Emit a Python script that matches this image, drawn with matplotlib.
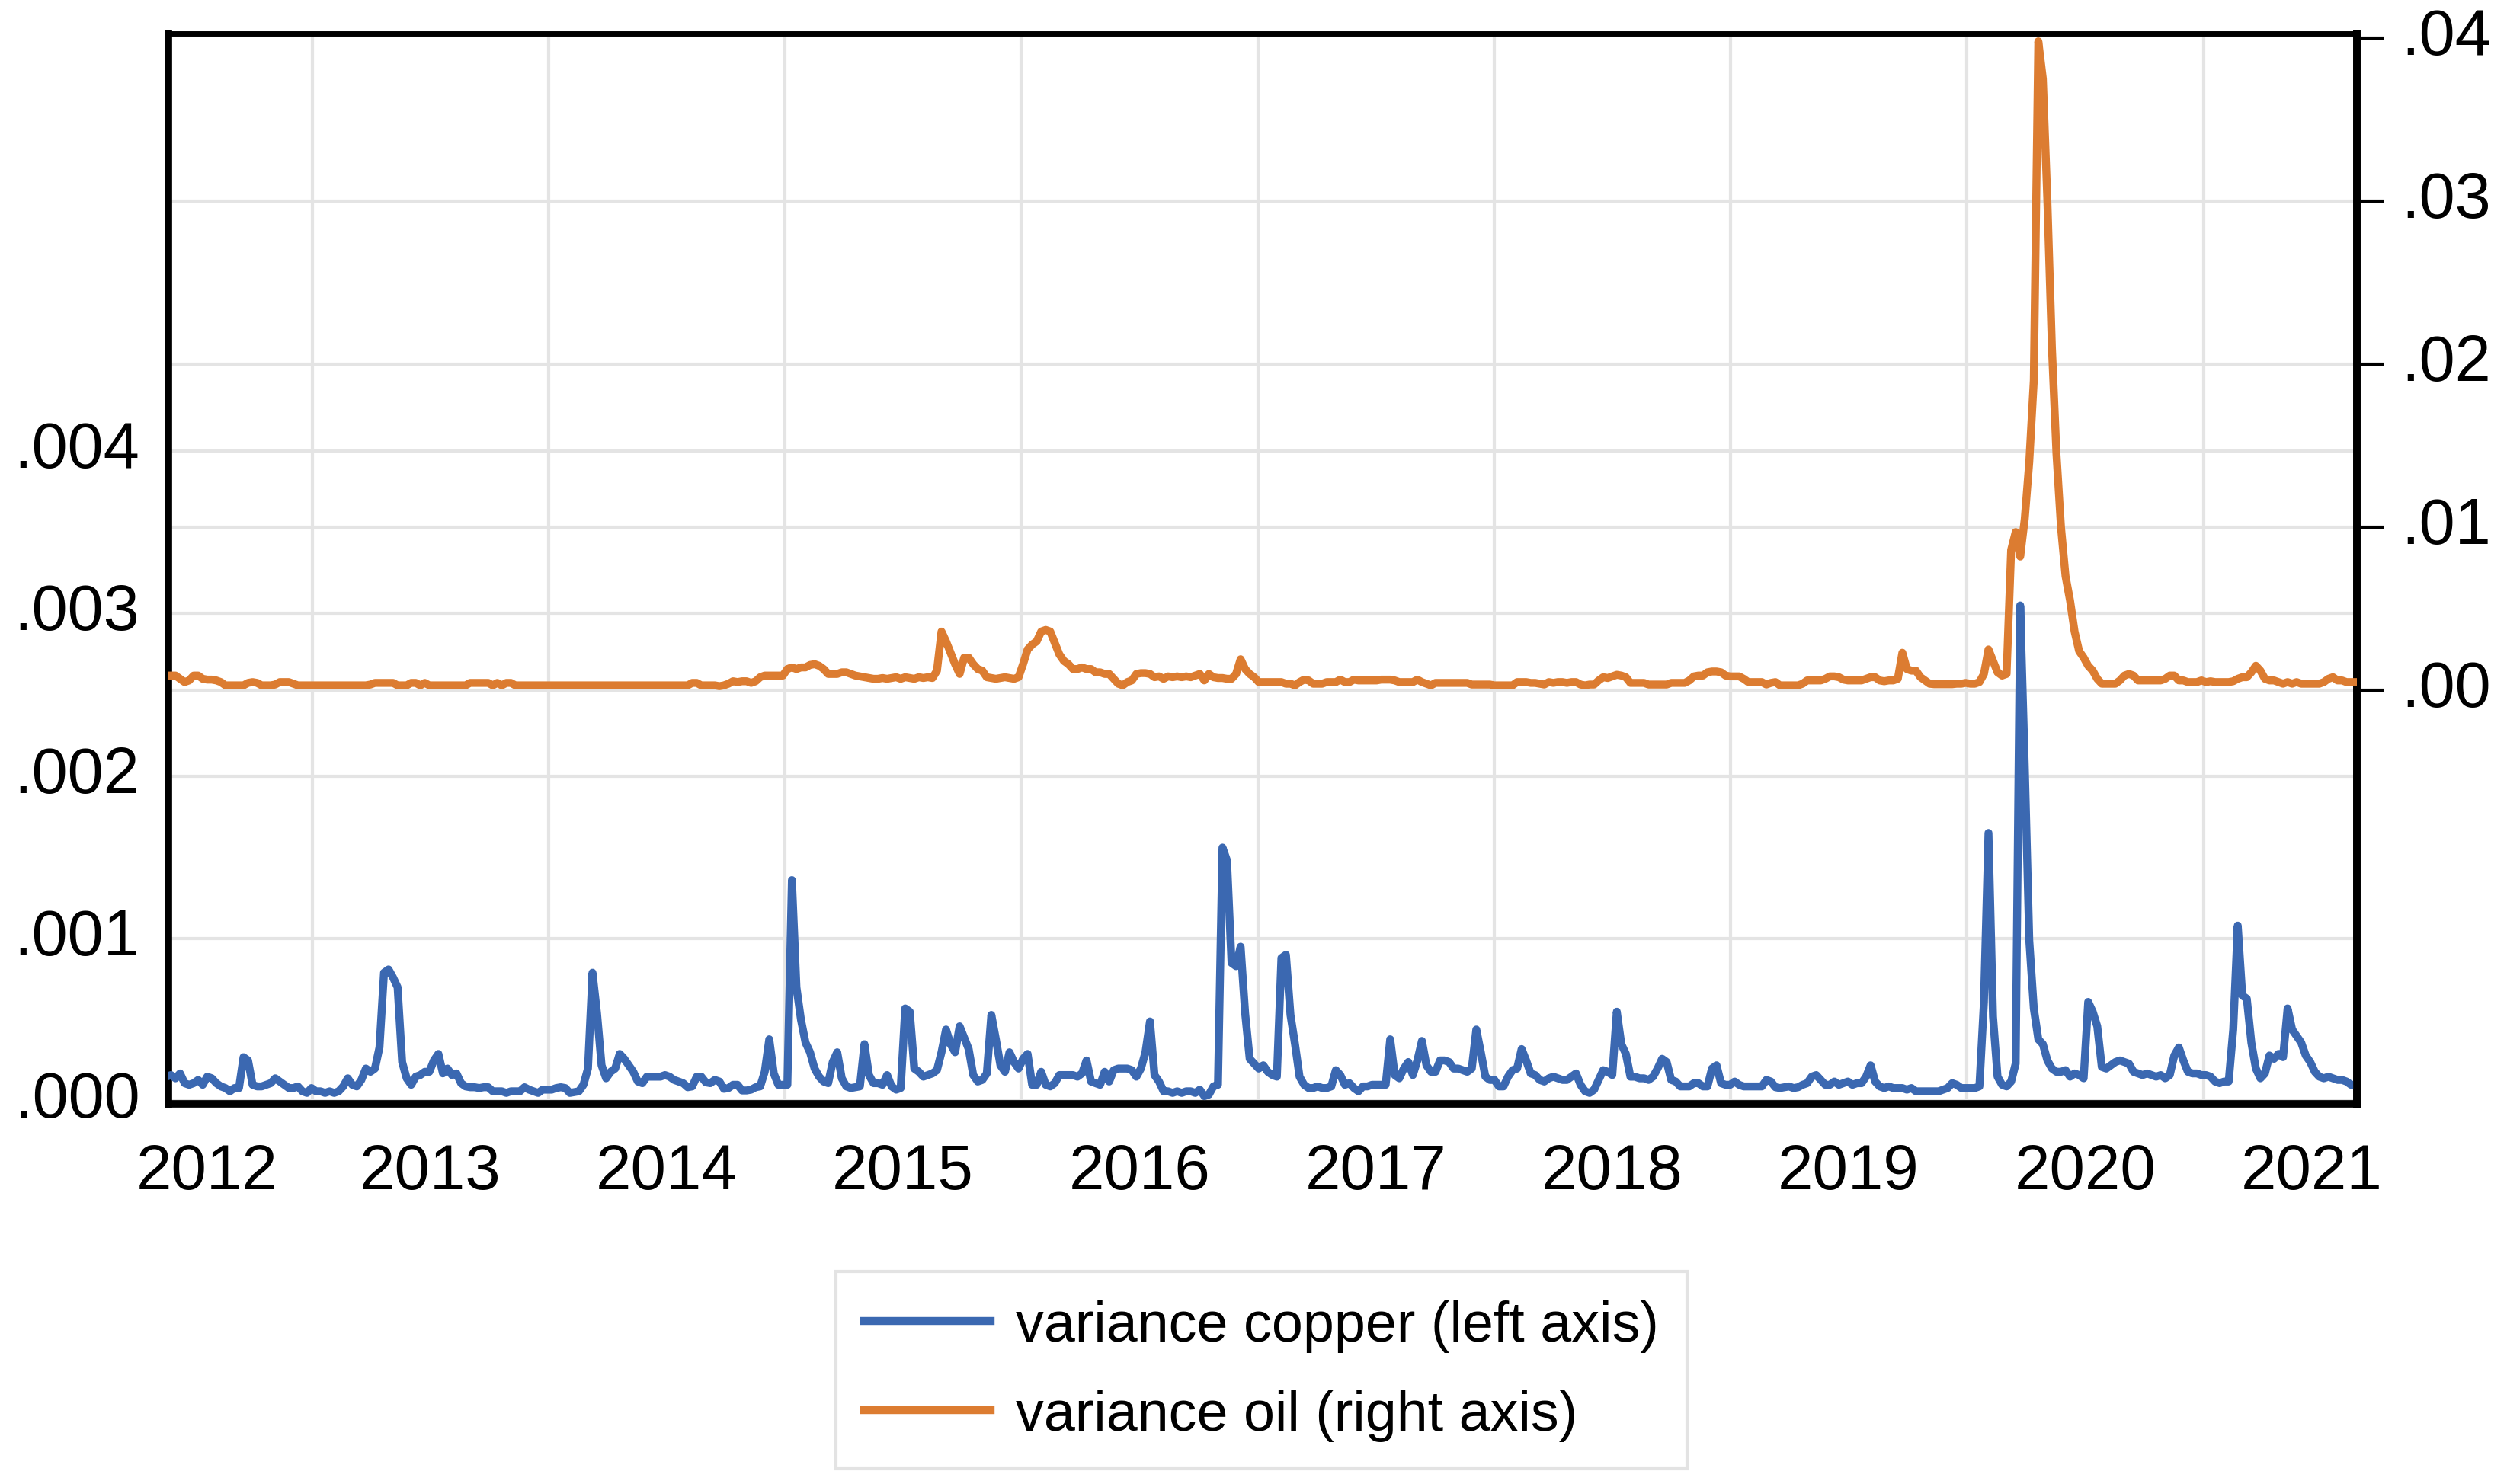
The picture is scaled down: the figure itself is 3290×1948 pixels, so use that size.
import numpy as np
import pandas as pd
import matplotlib
matplotlib.use("Agg")
import matplotlib.pyplot as plt
import matplotlib.transforms as mtransforms

plt.rcParams['font.family'] = ['Liberation Sans', 'DejaVu Sans']

# weekly readings, copper in units of 1e-4, oil in units of 1e-3
copper_2012 = [1.5, 1.6, 1.4, 1.7, 1.1, 1.0, 1.1, 1.3, 1.0, 1.5,
               1.4, 1.1, 0.9, 0.8, 0.6, 0.8, 0.8, 2.7, 2.5, 1.0,
               0.9, 0.9, 1.0, 1.1, 1.4, 1.2, 1.0, 0.8, 0.8, 0.9,
               0.6, 0.5, 0.8]
copper_2013 = [0.6, 0.6, 0.5, 0.6, 0.5, 0.6, 0.9, 1.4, 1.0, 0.9,
               1.3, 2.0, 1.8, 2.0, 3.3, 7.9, 8.1, 7.6, 7.0, 2.4,
               1.4, 1.0, 1.5, 1.6, 1.8, 1.8, 2.5, 2.9, 1.7, 2.0,
               1.6, 1.7, 1.1, 0.9, 0.85, 0.85, 0.8, 0.85, 0.85, 0.6,
               0.6, 0.6, 0.5, 0.6, 0.6, 0.6, 0.85, 0.7, 0.6, 0.5,
               0.7, 0.7]
copper_2014 = [0.7, 0.8, 0.85, 0.8, 0.5, 0.55, 0.6, 1.0, 2.0, 7.9,
               5.4, 2.2, 1.4, 1.8, 2.0, 2.9, 2.6, 2.2, 1.8, 1.2,
               1.1, 1.5, 1.5, 1.5, 1.5, 1.6, 1.5, 1.3, 1.2, 1.1,
               0.85, 0.9, 1.5, 1.5, 1.15, 1.1, 1.3, 1.2, 0.75, 0.8,
               1.0, 1.0, 0.65, 0.65, 0.7, 0.85, 0.9, 1.8, 3.8, 1.7,
               1.0, 1.0]
copper_2015 = [1.0, 13.6, 7.0, 5.0, 3.6, 3.0, 2.0, 1.5, 1.2, 1.1,
               2.4, 3.0, 1.4, 0.9, 0.8, 0.85, 0.9, 3.5, 1.6, 1.1,
               1.1, 1.0, 1.6, 0.9, 0.7, 0.8, 5.7, 5.5, 2.0, 1.8,
               1.5, 1.6, 1.7, 1.9, 3.0, 4.4, 3.5, 3.0, 4.6, 3.9,
               3.2, 1.6, 1.2, 1.3, 1.7, 5.3, 3.8, 2.2, 1.8, 3.0,
               2.4, 2.0]
copper_2016 = [2.6, 2.9, 1.0, 1.0, 1.8, 1.0, 0.9, 1.1, 1.6, 1.6,
               1.6, 1.6, 1.5, 1.7, 2.5, 1.2, 1.1, 1.0, 1.8, 1.2,
               1.9, 2.0, 2.0, 2.0, 1.9, 1.5, 2.0, 3.0, 4.9, 1.6,
               1.2, 0.6, 0.6, 0.5, 0.6, 0.5, 0.6, 0.6, 0.5, 0.7,
               0.3, 0.4, 0.9, 1.0, 15.6, 14.8, 8.5, 8.3, 9.5, 5.4,
               2.6, 2.3]
copper_2017 = [2.0, 2.2, 1.8, 1.6, 1.5, 8.8, 9.0, 5.3, 3.5, 1.5,
               1.0, 0.8, 0.8, 0.9, 0.8, 0.8, 0.9, 1.9, 1.6, 1.0,
               1.1, 0.8, 0.6, 0.9, 0.9, 1.0, 1.0, 1.0, 1.0, 3.8,
               1.6, 1.4, 2.0, 2.4, 1.6, 2.5, 3.7, 2.2, 1.8, 1.8,
               2.5, 2.5, 2.4, 2.0, 2.0, 1.9, 1.8, 2.0, 4.4, 3.0,
               1.5, 1.3]
copper_2018 = [1.3, 0.9, 0.9, 1.5, 1.9, 2.0, 3.2, 2.5, 1.7, 1.6,
               1.3, 1.2, 1.4, 1.5, 1.4, 1.3, 1.3, 1.5, 1.7, 1.0,
               0.6, 0.5, 0.7, 1.3, 1.9, 1.8, 1.6, 5.5, 3.5, 2.9,
               1.5, 1.5, 1.4, 1.4, 1.3, 1.5, 2.0, 2.6, 2.4, 1.3,
               1.2, 0.9, 0.9, 0.9, 1.1, 1.1, 0.9, 0.9, 2.0, 2.2,
               1.1, 1.0, 1.0]
copper_2019 = [1.2, 1.0, 0.9, 0.9, 0.9, 0.9, 0.9, 1.3, 1.2, 0.85,
               0.8, 0.85, 0.9, 0.8, 0.85, 1.0, 1.1, 1.5, 1.6, 1.3,
               1.0, 1.0, 1.2, 1.0, 1.1, 1.2, 1.0, 1.1, 1.1, 1.5,
               2.2, 1.2, 0.9, 0.8, 0.9, 0.8, 0.8, 0.8, 0.7, 0.8,
               0.6, 0.6, 0.6, 0.6, 0.6, 0.6, 0.7, 0.8, 1.1, 1.0,
               0.8, 0.8]
copper_2020 = [0.8, 0.8, 0.9, 6.1, 16.5, 5.2, 1.5, 1.0, 0.9, 1.2,
               2.3, 30.5, 20.7, 9.9, 5.7, 3.8, 3.5, 2.5, 2.0, 1.8,
               1.8, 1.9, 1.5, 1.7, 1.6, 1.4, 6.1, 5.5, 4.6, 2.1,
               2.0, 2.2, 2.4, 2.5, 2.4, 2.3, 1.8, 1.7, 1.6, 1.7,
               1.6, 1.5, 1.6, 1.4, 1.6, 2.8, 3.3, 2.5, 1.8, 1.7,
               1.7, 1.6]
copper_2021 = [1.6, 1.5, 1.2, 1.1, 1.2, 1.2, 4.4, 10.8, 6.5, 6.3,
               3.6, 2.0, 1.4, 1.7, 2.8, 2.6, 2.9, 2.7, 5.7, 4.4,
               4.0, 3.6, 2.8, 2.4, 1.8, 1.5, 1.4, 1.5, 1.4, 1.3,
               1.3, 1.2, 1.0, 1.0]

oil_2012 = [0.9, 0.9, 0.9, 0.7, 0.5, 0.6, 0.9, 0.9, 0.7, 0.65,
            0.65, 0.6, 0.5, 0.3, 0.3, 0.3, 0.3, 0.3, 0.45, 0.5,
            0.45, 0.3, 0.3, 0.3, 0.35, 0.5, 0.5, 0.5, 0.4, 0.3,
            0.3, 0.3, 0.3]
oil_2013 = [0.3, 0.3, 0.3, 0.3, 0.3, 0.3, 0.3, 0.3, 0.3, 0.3,
            0.3, 0.3, 0.35, 0.45, 0.45, 0.45, 0.45, 0.45, 0.3, 0.3,
            0.3, 0.45, 0.45, 0.3, 0.45, 0.3, 0.3, 0.3, 0.3, 0.3,
            0.3, 0.3, 0.3, 0.3, 0.45, 0.45, 0.45, 0.45, 0.45, 0.3,
            0.45, 0.3, 0.45, 0.45, 0.3, 0.3, 0.3, 0.3, 0.3, 0.3,
            0.3, 0.3]
oil_2014 = [0.3, 0.3, 0.3, 0.3, 0.3, 0.3, 0.3, 0.3, 0.3, 0.3,
            0.3, 0.3, 0.3, 0.3, 0.3, 0.3, 0.3, 0.3, 0.3, 0.3,
            0.3, 0.3, 0.3, 0.3, 0.3, 0.3, 0.3, 0.3, 0.3, 0.3,
            0.3, 0.45, 0.45, 0.3, 0.3, 0.3, 0.3, 0.25, 0.3, 0.4,
            0.55, 0.5, 0.55, 0.55, 0.45, 0.55, 0.8, 0.9, 0.9, 0.9,
            0.9, 0.9]
oil_2015 = [1.3, 1.4, 1.3, 1.4, 1.4, 1.55, 1.6, 1.5, 1.3, 1.0,
            1.0, 1.0, 1.1, 1.1, 1.0, 0.9, 0.85, 0.8, 0.75, 0.7,
            0.7, 0.75, 0.7, 0.75, 0.8, 0.7, 0.8, 0.75, 0.7, 0.8,
            0.75, 0.8, 0.75, 1.2, 3.6, 3.0, 2.3, 1.6, 1.0, 2.0,
            2.0, 1.6, 1.3, 1.2, 0.8, 0.75, 0.7, 0.75, 0.8, 0.75,
            0.7, 0.8]
oil_2016 = [1.6, 2.5, 2.8, 3.0, 3.6, 3.7, 3.6, 2.9, 2.2, 1.8,
            1.6, 1.3, 1.3, 1.4, 1.3, 1.3, 1.1, 1.1, 1.0, 1.0,
            0.7, 0.4, 0.3, 0.5, 0.6, 1.0, 1.05, 1.05, 1.0, 0.8,
            0.85, 0.7, 0.85, 0.8, 0.85, 0.8, 0.85, 0.8, 0.9, 1.0,
            0.6, 1.0, 0.8, 0.75, 0.75, 0.7, 0.7, 1.0, 1.9, 1.3,
            1.0, 0.8]
oil_2017 = [0.5, 0.5, 0.5, 0.5, 0.5, 0.5, 0.4, 0.4, 0.3, 0.5,
            0.65, 0.6, 0.4, 0.4, 0.4, 0.5, 0.5, 0.5, 0.65, 0.5,
            0.5, 0.65, 0.6, 0.6, 0.6, 0.6, 0.6, 0.65, 0.65, 0.65,
            0.6, 0.5, 0.5, 0.5, 0.5, 0.65, 0.5, 0.4, 0.3, 0.45,
            0.45, 0.45, 0.45, 0.45, 0.45, 0.45, 0.45, 0.35, 0.35, 0.35,
            0.35, 0.35]
oil_2018 = [0.3, 0.3, 0.3, 0.3, 0.3, 0.5, 0.5, 0.5, 0.45, 0.45,
            0.4, 0.35, 0.5, 0.45, 0.5, 0.5, 0.45, 0.5, 0.5, 0.35,
            0.3, 0.35, 0.35, 0.6, 0.8, 0.75, 0.85, 0.95, 0.9, 0.8,
            0.45, 0.45, 0.45, 0.45, 0.35, 0.35, 0.35, 0.35, 0.35, 0.45,
            0.45, 0.45, 0.45, 0.6, 0.85, 0.9, 0.9, 1.1, 1.15, 1.15,
            1.1, 0.9, 0.85]
oil_2019 = [0.85, 0.85, 0.7, 0.5, 0.5, 0.5, 0.5, 0.35, 0.45, 0.5,
            0.3, 0.3, 0.3, 0.3, 0.3, 0.4, 0.6, 0.6, 0.6, 0.6,
            0.7, 0.85, 0.85, 0.8, 0.65, 0.6, 0.6, 0.6, 0.6, 0.7,
            0.8, 0.8, 0.6, 0.55, 0.6, 0.6, 0.7, 2.3, 1.3, 1.2,
            1.2, 0.8, 0.6, 0.4, 0.37, 0.37, 0.37, 0.37, 0.37, 0.4,
            0.4, 0.45]
oil_2020 = [0.4, 0.4, 0.5, 1.0, 2.5, 1.8, 1.1, 0.9, 1.0, 8.6,
            9.7, 8.2, 10.5, 14.0, 19.0, 39.8, 37.5, 30.0, 21.0, 14.5,
            10.0, 7.0, 5.5, 3.6, 2.4, 2.0, 1.5, 1.2, 0.7, 0.4,
            0.4, 0.4, 0.4, 0.6, 0.9, 1.0, 0.9, 0.6, 0.6, 0.6,
            0.6, 0.6, 0.6, 0.7, 0.9, 0.9, 0.6, 0.6, 0.5, 0.5,
            0.5, 0.6]
oil_2021 = [0.5, 0.55, 0.5, 0.5, 0.5, 0.5, 0.55, 0.7, 0.8, 0.8,
            1.1, 1.5, 1.2, 0.7, 0.6, 0.6, 0.5, 0.4, 0.5, 0.4,
            0.5, 0.4, 0.4, 0.4, 0.4, 0.4, 0.5, 0.7, 0.8, 0.6,
            0.6, 0.5, 0.5, 0.5]

year_labels = ['2012', '2013', '2014', '2015', '2016',
               '2017', '2018', '2019', '2020', '2021']
left_ticks = [0.0, 0.001, 0.002, 0.003, 0.004]
left_labels = ['.000', '.001', '.002', '.003', '.004']
right_ticks = [0.0, 0.01, 0.02, 0.03, 0.04]
right_labels = ['.00', '.01', '.02', '.03', '.04']

BLUE = '#3b68b1'
ORANGE = '#dc7c31'
GRID = '#e4e4e4'

copper = np.concatenate([copper_2012, copper_2013, copper_2014, copper_2015,
                         copper_2016, copper_2017, copper_2018, copper_2019,
                         copper_2020, copper_2021]) * 1e-4
oil = np.concatenate([oil_2012, oil_2013, oil_2014, oil_2015, oil_2016,
                      oil_2017, oil_2018, oil_2019, oil_2020, oil_2021]) * 1e-3
assert len(copper) == len(oil)
dates = pd.date_range('2012-05-21', periods=len(copper), freq='7D')

fig = plt.figure(figsize=(32.9, 19.49), dpi=100)
ax = fig.add_axes([0.06717, 0.25603, 0.87295, 0.72088])
ax2 = ax.twinx()

ax.plot(dates, copper, color=BLUE, lw=7.5, label='variance copper (left axis)', zorder=3)
ax2.plot(dates, oil, color=ORANGE, lw=7.5, label='variance oil (right axis)', zorder=3)

ax.set_xlim(pd.Timestamp('2012-05-24'), pd.Timestamp('2021-08-25'))
ax.set_ylim(-0.0000173, 0.00657)
ax2.set_ylim(-0.02537, 0.04028)

# year labels sit mid-year, gridlines on year boundaries
label_pos = [pd.Timestamp('2012-07-23')] + \
    [pd.Timestamp(f'{y}-07-02') for y in range(2013, 2021)] + [pd.Timestamp('2021-06-16')]
ax.set_xticks(label_pos)
ax.set_xticklabels(year_labels)
ax.set_xticks([pd.Timestamp(f'{y}-01-01') for y in range(2013, 2022)], minor=True)
ax.tick_params(axis='x', which='both', length=0, pad=36, labelsize=60)

ax.set_yticks(left_ticks)
ax.set_yticklabels(left_labels)
ax.tick_params(axis='y', length=0, pad=27, labelsize=61)
ax2.set_yticks(right_ticks)
ax2.set_yticklabels(right_labels)
ax2.tick_params(axis='y', direction='out', length=26, width=3, pad=16, labelsize=61)

# value labels sit a little above their tick, as in the original
lift = mtransforms.ScaledTranslation(0, 0.10, fig.dpi_scale_trans)
for lab in ax.get_yticklabels() + ax2.get_yticklabels():
    lab.set_transform(lab.get_transform() + lift)

ax.set_axisbelow(True)
ax.xaxis.grid(True, which='minor', color=GRID, lw=3)
ax.yaxis.grid(True, which='major', color=GRID, lw=3)
# right-axis gridlines kept under both series
blend = mtransforms.blended_transform_factory(ax.transAxes, ax2.transData)
for v in right_ticks[:-1]:
    ax.plot([0, 1], [v, v], transform=blend, color=GRID, lw=3, zorder=0.5)

for name, sp in ax.spines.items():
    sp.set_linewidth(5 if name == 'top' else 7)
    sp.set_capstyle('projecting')
for name, sp in ax2.spines.items():
    if name == 'right':
        sp.set_linewidth(7)
        sp.set_capstyle('projecting')
    else:
        sp.set_visible(False)

handles = ax.get_lines()[:1] + ax2.get_lines()[:1]
leg = fig.legend(handles, [h.get_label() for h in handles],
                 loc='upper left', bbox_to_anchor=(1097 / 3290, 1 - 1670 / 1949),
                 bbox_transform=fig.transFigure, borderaxespad=0,
                 fontsize=53, frameon=True, fancybox=False, framealpha=1,
                 edgecolor='#e3e3e3', borderpad=0.5, handlelength=2.26,
                 handletextpad=0.45, labelspacing=0.65)
leg.get_frame().set_linewidth(3)

fig.savefig('out.png', dpi=100)
